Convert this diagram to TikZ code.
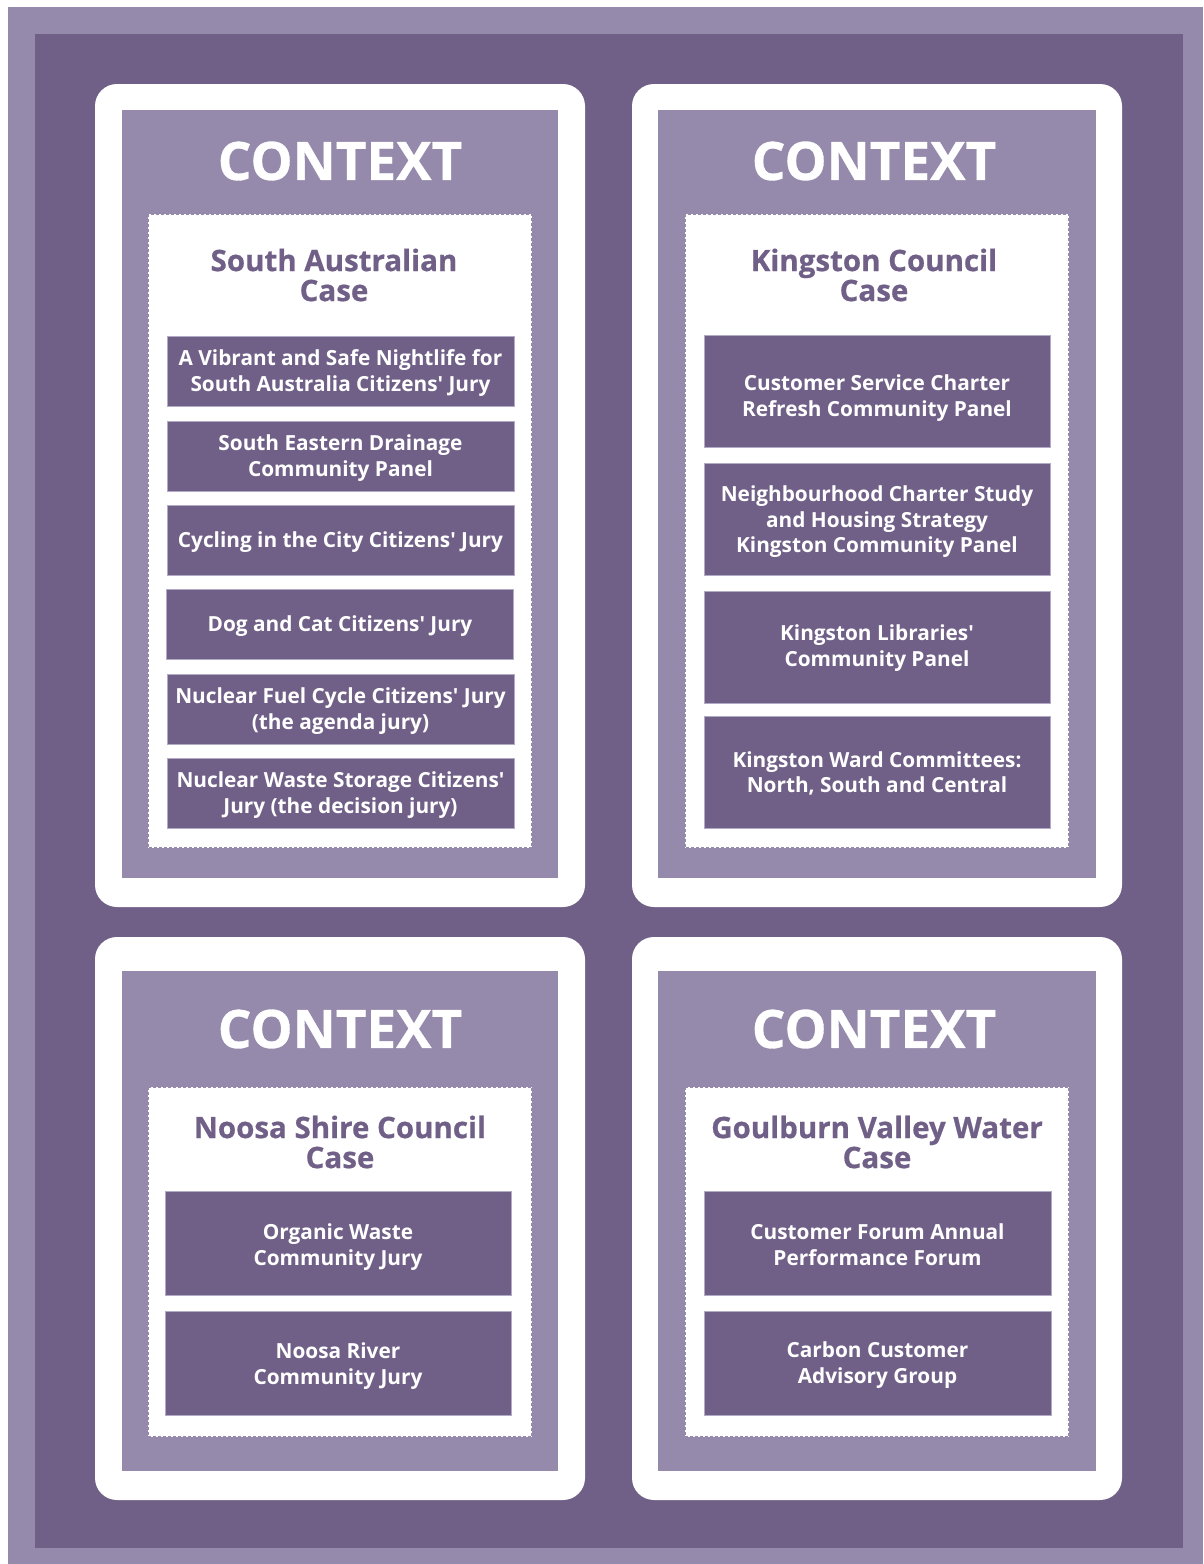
\documentclass[tikz,border=0pt]{standalone}
\usepackage{fontspec}
\setmainfont{Open Sans}
\newfontfamily\heavyfont{Open Sans}[BoldFeatures={FakeBold=0.6}]
\newcommand{\ap}{\textquotesingle}
\begin{document}
\definecolor{lightplum}{HTML}{958AAB}
\definecolor{darkplum}{HTML}{706087}
\definecolor{edgeplum}{HTML}{B3AAC6}
% box of one case item: name, centre x, centre y, width, height, text drop, text
\newcommand{\caseitem}[7]{%
  \node[itembox,minimum width=#4pt,minimum height=#5pt] (#1) at (#2,#3) {};
  \node[itemtext] (#1t) at ([yshift=-#6pt]#1.center) {#7};}
\begin{tikzpicture}[x=1pt,y=-1pt,
  outerframe/.style={fill=lightplum,draw=none},
  innerframe/.style={fill=darkplum,draw=none},
  cardwhite/.style={fill=white,draw=none,rounded corners=22pt},
  cardfill/.style={fill=lightplum,draw=none},
  casebox/.style={fill=white,draw=lightplum,line width=1.4pt,dash pattern=on 3pt off 2pt},
  ctxtitle/.style={text=white,font=\heavyfont\bfseries\fontsize{53}{60}\selectfont,inner sep=0pt},
  casetitle/.style={text=darkplum,font=\heavyfont\bfseries\fontsize{29.5}{30}\selectfont,align=center,inner sep=0pt},
  itembox/.style={fill=darkplum,draw=edgeplum,line width=0.8pt,inner sep=0pt},
  itemtext/.style={text=white,font=\bfseries\fontsize{20.8}{25.5}\selectfont,align=center,inner sep=0pt}]
\useasboundingbox (0,0) rectangle (1203,1564);
\fill[white] (0,0) rectangle (1203,1564);
\path[outerframe] (8,7) rectangle (1203,1564);
\path[innerframe] (35,34) rectangle (1183,1548);

% four cards: white rounded mount, light panel, dashed case box
\path[cardwhite] (95,84) rectangle (585,907);
\path[cardwhite] (632,84) rectangle (1122,907);
\path[cardwhite] (95,937) rectangle (585,1500);
\path[cardwhite] (632,937) rectangle (1122,1500);
\path[cardfill] (122,110) rectangle (558,878);
\path[cardfill] (658,110) rectangle (1096,878);
\path[cardfill] (122,971) rectangle (558,1471);
\path[cardfill] (658,971) rectangle (1096,1471);
\path[casebox] (148,214) rectangle (532,848);
\path[casebox] (685,214) rectangle (1069,848);
\path[casebox] (148,1087) rectangle (532,1437);
\path[casebox] (685,1087) rectangle (1069,1437);

% headings
\node[ctxtitle] (ctxA) at (340,161) {CONTEXT};
\node[ctxtitle] (ctxB) at (874,161) {CONTEXT};
\node[ctxtitle] (ctxC) at (340,1029) {CONTEXT};
\node[ctxtitle] (ctxD) at (874,1029) {CONTEXT};

\node[casetitle] (caseA) at (334,275) {South Australian\\Case};
\node[casetitle] (caseB) at (874,275) {Kingston Council\\Case};
\node[casetitle] (caseC) at (340,1142) {Noosa Shire Council\\Case};
\node[casetitle] (caseD) at (877,1142) {Goulburn Valley Water\\Case};

% South Australian case
\caseitem{sa1}{340.5}{371}{347}{70}{2}{A Vibrant and Safe Nightlife for\\South Australia Citizens\ap{} Jury}
\caseitem{sa2}{340.5}{456}{347}{70}{2}{South Eastern Drainage\\Community Panel}
\caseitem{sa3}{340.5}{540}{347}{70}{2}{Cycling in the City Citizens\ap{} Jury}
\caseitem{sa4}{340}{624}{347}{70}{2}{Dog and Cat Citizens\ap{} Jury}
\caseitem{sa5}{340.5}{709}{347}{70}{2}{Nuclear Fuel Cycle Citizens\ap{} Jury\\(the agenda jury)}
\caseitem{sa6}{340.5}{793}{347}{70}{2}{Nuclear Waste Storage Citizens\ap\\Jury (the decision jury)}

% Kingston Council case
\caseitem{kc1}{877}{391}{346}{112}{7}{Customer Service Charter\\Refresh Community Panel}
\caseitem{kc2}{877}{519}{346}{112}{3}{Neighbourhood Charter Study\\and Housing Strategy\\Kingston Community Panel}
\caseitem{kc3}{877}{647}{346}{112}{1}{Kingston Libraries\ap\\Community Panel}
\caseitem{kc4}{877}{772}{346}{112}{1.5}{Kingston Ward Committees:\\North, South and Central}

% Noosa Shire Council case
\caseitem{ns1}{338}{1243.5}{346}{104}{3.5}{Organic Waste\\Community Jury}
\caseitem{ns2}{338}{1363}{346}{104}{3}{Noosa River\\Community Jury}

% Goulburn Valley Water case
\caseitem{gv1}{877.5}{1243.5}{347}{104}{1}{Customer Forum Annual\\Performance Forum}
\caseitem{gv2}{877.5}{1363}{347}{104}{2}{Carbon Customer\\Advisory Group}
\end{tikzpicture}
\end{document}
